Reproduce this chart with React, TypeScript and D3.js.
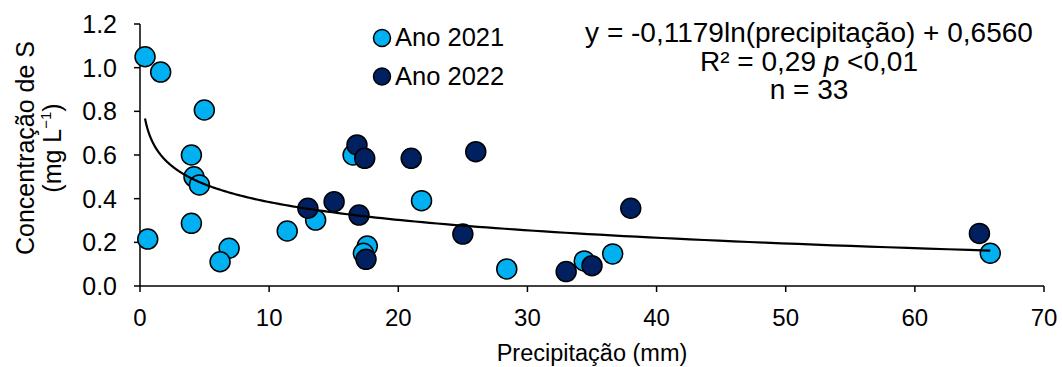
import React from "react";
import * as d3 from "d3";

const precip2021 = [0.39, 1.6, 4.98, 3.98, 4.18, 4.6, 3.98, 0.6, 6.9, 6.2, 11.4, 13.6, 16.5, 21.8, 17.6, 17.3, 28.4, 34.4, 36.6, 65.84];
const conc2021 = [1.05, 0.98, 0.806, 0.6, 0.5, 0.463, 0.287, 0.215, 0.173, 0.111, 0.252, 0.302, 0.6, 0.391, 0.183, 0.15, 0.078, 0.115, 0.147, 0.15];
const precip2022 = [13.0, 15.03, 16.96, 16.8, 17.4, 21.0, 26.0, 17.5, 25.0, 33.0, 35.0, 38.0, 65.0];
const conc2022 = [0.356, 0.386, 0.325, 0.646, 0.585, 0.585, 0.615, 0.122, 0.238, 0.066, 0.093, 0.356, 0.241];
const xTicks = [0, 10, 20, 30, 40, 50, 60, 70];
const yTicks = [0, 0.2, 0.4, 0.6, 0.8, 1.0, 1.2];
const fitA = -0.1179;
const fitB = 0.656;
const seriesNames = ["Ano 2021", "Ano 2022"];
const colors = ["#00B0F0", "#002060"];

const W = 1062, H = 367;
const FONT = "'Liberation Sans', Arial, sans-serif";

export default function App() {
  const x = d3.scaleLinear().domain([0, 70]).range([140, 1044]);
  const y = d3.scaleLinear().domain([0, 1.2]).range([286, 24]);
  const xMin = d3.min([...precip2021, ...precip2022]) as number;
  const xMax = d3.max([...precip2021, ...precip2022]) as number;
  const fitX = d3.range(0, 201).map(i => xMin * Math.pow(xMax / xMin, i / 200));
  const line = d3.line<number>().x(d => x(d)).y(d => y(fitA * Math.log(d) + fitB)).curve(d3.curveLinear);
  const r = 10;
  const eqX = 809;
  return (
    <svg width={W} height={H} style={{ position: "absolute", left: 0, top: 0, fontFamily: FONT }}>
      <rect width={W} height={H} fill="#fff" />
      <line x1={x(0)} x2={x(0)} y1={y(1.2)} y2={y(0)} stroke="#000" strokeWidth={1.5} />
      <line x1={x(0)} x2={x(70)} y1={y(0)} y2={y(0)} stroke="#000" strokeWidth={1.5} />
      {yTicks.map(t => (
        <g key={"y" + t}>
          <line x1={x(0) - 6} x2={x(0)} y1={y(t)} y2={y(t)} stroke="#000" strokeWidth={1.5} />
          <text x={117} y={y(t)} dy="0.36em" textAnchor="end" fontSize={25}>{t.toFixed(1)}</text>
        </g>
      ))}
      {xTicks.map(t => (
        <g key={"x" + t}>
          <line x1={x(t)} x2={x(t)} y1={y(0)} y2={y(0) + 6} stroke="#000" strokeWidth={1.5} />
          <text x={x(t)} y={326} textAnchor="middle" fontSize={24}>{t}</text>
        </g>
      ))}
      <text x={(x(0) + x(70)) / 2} y={361} textAnchor="middle" fontSize={23.5}>Precipitação (mm)</text>
      <g transform={`translate(0,148) rotate(-90)`}>
        <text x={0} y={34} textAnchor="middle" fontSize={25}>Concentração de S</text>
        <text x={0} y={61} textAnchor="middle" fontSize={25}>(mg L<tspan fontSize={15} dy={-10}>−1</tspan><tspan dy={10}>)</tspan></text>
      </g>
      {precip2021.map((p, i) => (
        <circle key={"a" + i} cx={x(p)} cy={y(conc2021[i])} r={r} fill={colors[0]} stroke="#000" strokeWidth={1.5} />
      ))}
      {precip2022.map((p, i) => (
        <circle key={"b" + i} cx={x(p)} cy={y(conc2022[i])} r={r} fill={colors[1]} stroke="#000" strokeWidth={1.5} />
      ))}
      <path d={line(fitX) || ""} fill="none" stroke="#000" strokeWidth={2.2} />
      {seriesNames.map((s, i) => (
        <g key={s}>
          <circle cx={382} cy={38 + i * 38.5} r={8.5} fill={colors[i]} stroke="#000" strokeWidth={1.5} />
          <text x={395} y={46 + i * 38.5} fontSize={25.5}>{s}</text>
        </g>
      ))}
      <text x={eqX} y={42} textAnchor="middle" fontSize={28}>y = -0,1179ln(precipitação) + 0,6560</text>
      <text x={eqX} y={71} textAnchor="middle" fontSize={28}>R² = 0,29 <tspan fontStyle="italic">p</tspan> &lt;0,01</text>
      <text x={eqX} y={99} textAnchor="middle" fontSize={28}>n = 33</text>
    </svg>
  );
}
